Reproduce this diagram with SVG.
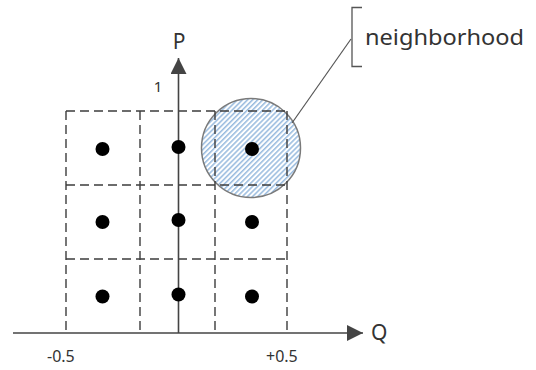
<svg xmlns="http://www.w3.org/2000/svg" width="536" height="370" viewBox="0 0 536 370">
  <style>
    .cell { fill: none; stroke: #3c3c3c; stroke-width: 1.4; stroke-dasharray: 9 5; }
    .dot { fill: #000; }
    .axis { stroke: #444; stroke-width: 1.6; fill: none; }
    .lbl { font-family: "Noto Sans", "Open Sans", sans-serif; fill: #333; }
  </style>
  <defs>
    <pattern id="hatch" width="3.6" height="3.6" patternUnits="userSpaceOnUse" patternTransform="rotate(45)">
      <rect width="3.6" height="3.6" fill="#fff"/>
      <line x1="0.8" y1="0" x2="0.8" y2="3.6" stroke="#7ea9d6" stroke-width="1.2"/>
    </pattern>
    <marker id="arrow" markerUnits="userSpaceOnUse" markerWidth="17" markerHeight="17" refX="16" refY="8" orient="auto">
      <path d="M0,0 L16,8 L0,16 z" fill="#444"/>
    </marker>
  </defs>

  <g id="neighborhood">
    <circle cx="251" cy="148" r="49.5" fill="url(#hatch)" stroke="#7a7a7a" stroke-width="1.5"/>
  </g>

  <g id="grid">
    <line class="cell" x1="66" y1="111" x2="287" y2="111"/>
    <line class="cell" x1="66" y1="185" x2="287" y2="185"/>
    <line class="cell" x1="66" y1="259" x2="287" y2="259"/>
    <line class="cell" x1="66" y1="111" x2="66" y2="333"/>
    <line class="cell" x1="140" y1="111" x2="140" y2="333"/>
    <line class="cell" x1="215" y1="111" x2="215" y2="333"/>
    <line class="cell" x1="287" y1="111" x2="287" y2="333"/>
  </g>

  <g id="connectors">
    <line class="axis" x1="13" y1="333" x2="363" y2="333" marker-end="url(#arrow)"/>
    <line class="axis" x1="178.5" y1="333" x2="178.5" y2="58" marker-end="url(#arrow)"/>
    <line x1="292" y1="123" x2="351" y2="39" stroke="#555" stroke-width="1.2"/>
    <path d="M362,7.5 H352 V66.5 H362" fill="none" stroke="#555" stroke-width="1.3"/>
  </g>

  <g id="point-1-1"><circle class="dot" cx="102.5" cy="149" r="7"/></g>
  <g id="point-1-2"><circle class="dot" cx="178.5" cy="147" r="7"/></g>
  <g id="point-1-3"><circle class="dot" cx="252" cy="149" r="7"/></g>
  <g id="point-2-1"><circle class="dot" cx="102.5" cy="222" r="7"/></g>
  <g id="point-2-2"><circle class="dot" cx="178.5" cy="220" r="7"/></g>
  <g id="point-2-3"><circle class="dot" cx="252" cy="222" r="7"/></g>
  <g id="point-3-1"><circle class="dot" cx="102.5" cy="296.5" r="7"/></g>
  <g id="point-3-2"><circle class="dot" cx="178.5" cy="294.5" r="7"/></g>
  <g id="point-3-3"><circle class="dot" cx="252" cy="296.5" r="7"/></g>

  <g id="labels">
    <text class="lbl" x="179" y="49" font-size="21" text-anchor="middle">P</text>
    <text class="lbl" x="158" y="92" font-size="15" text-anchor="middle">1</text>
    <text class="lbl" x="371" y="340" font-size="21">Q</text>
    <text class="lbl" x="47" y="362" font-size="16">-0.5</text>
    <text class="lbl" x="266" y="362" font-size="16">+0.5</text>
    <text class="lbl" x="365" y="45" font-size="22" textLength="159" lengthAdjust="spacingAndGlyphs">neighborhood</text>
  </g>
</svg>
